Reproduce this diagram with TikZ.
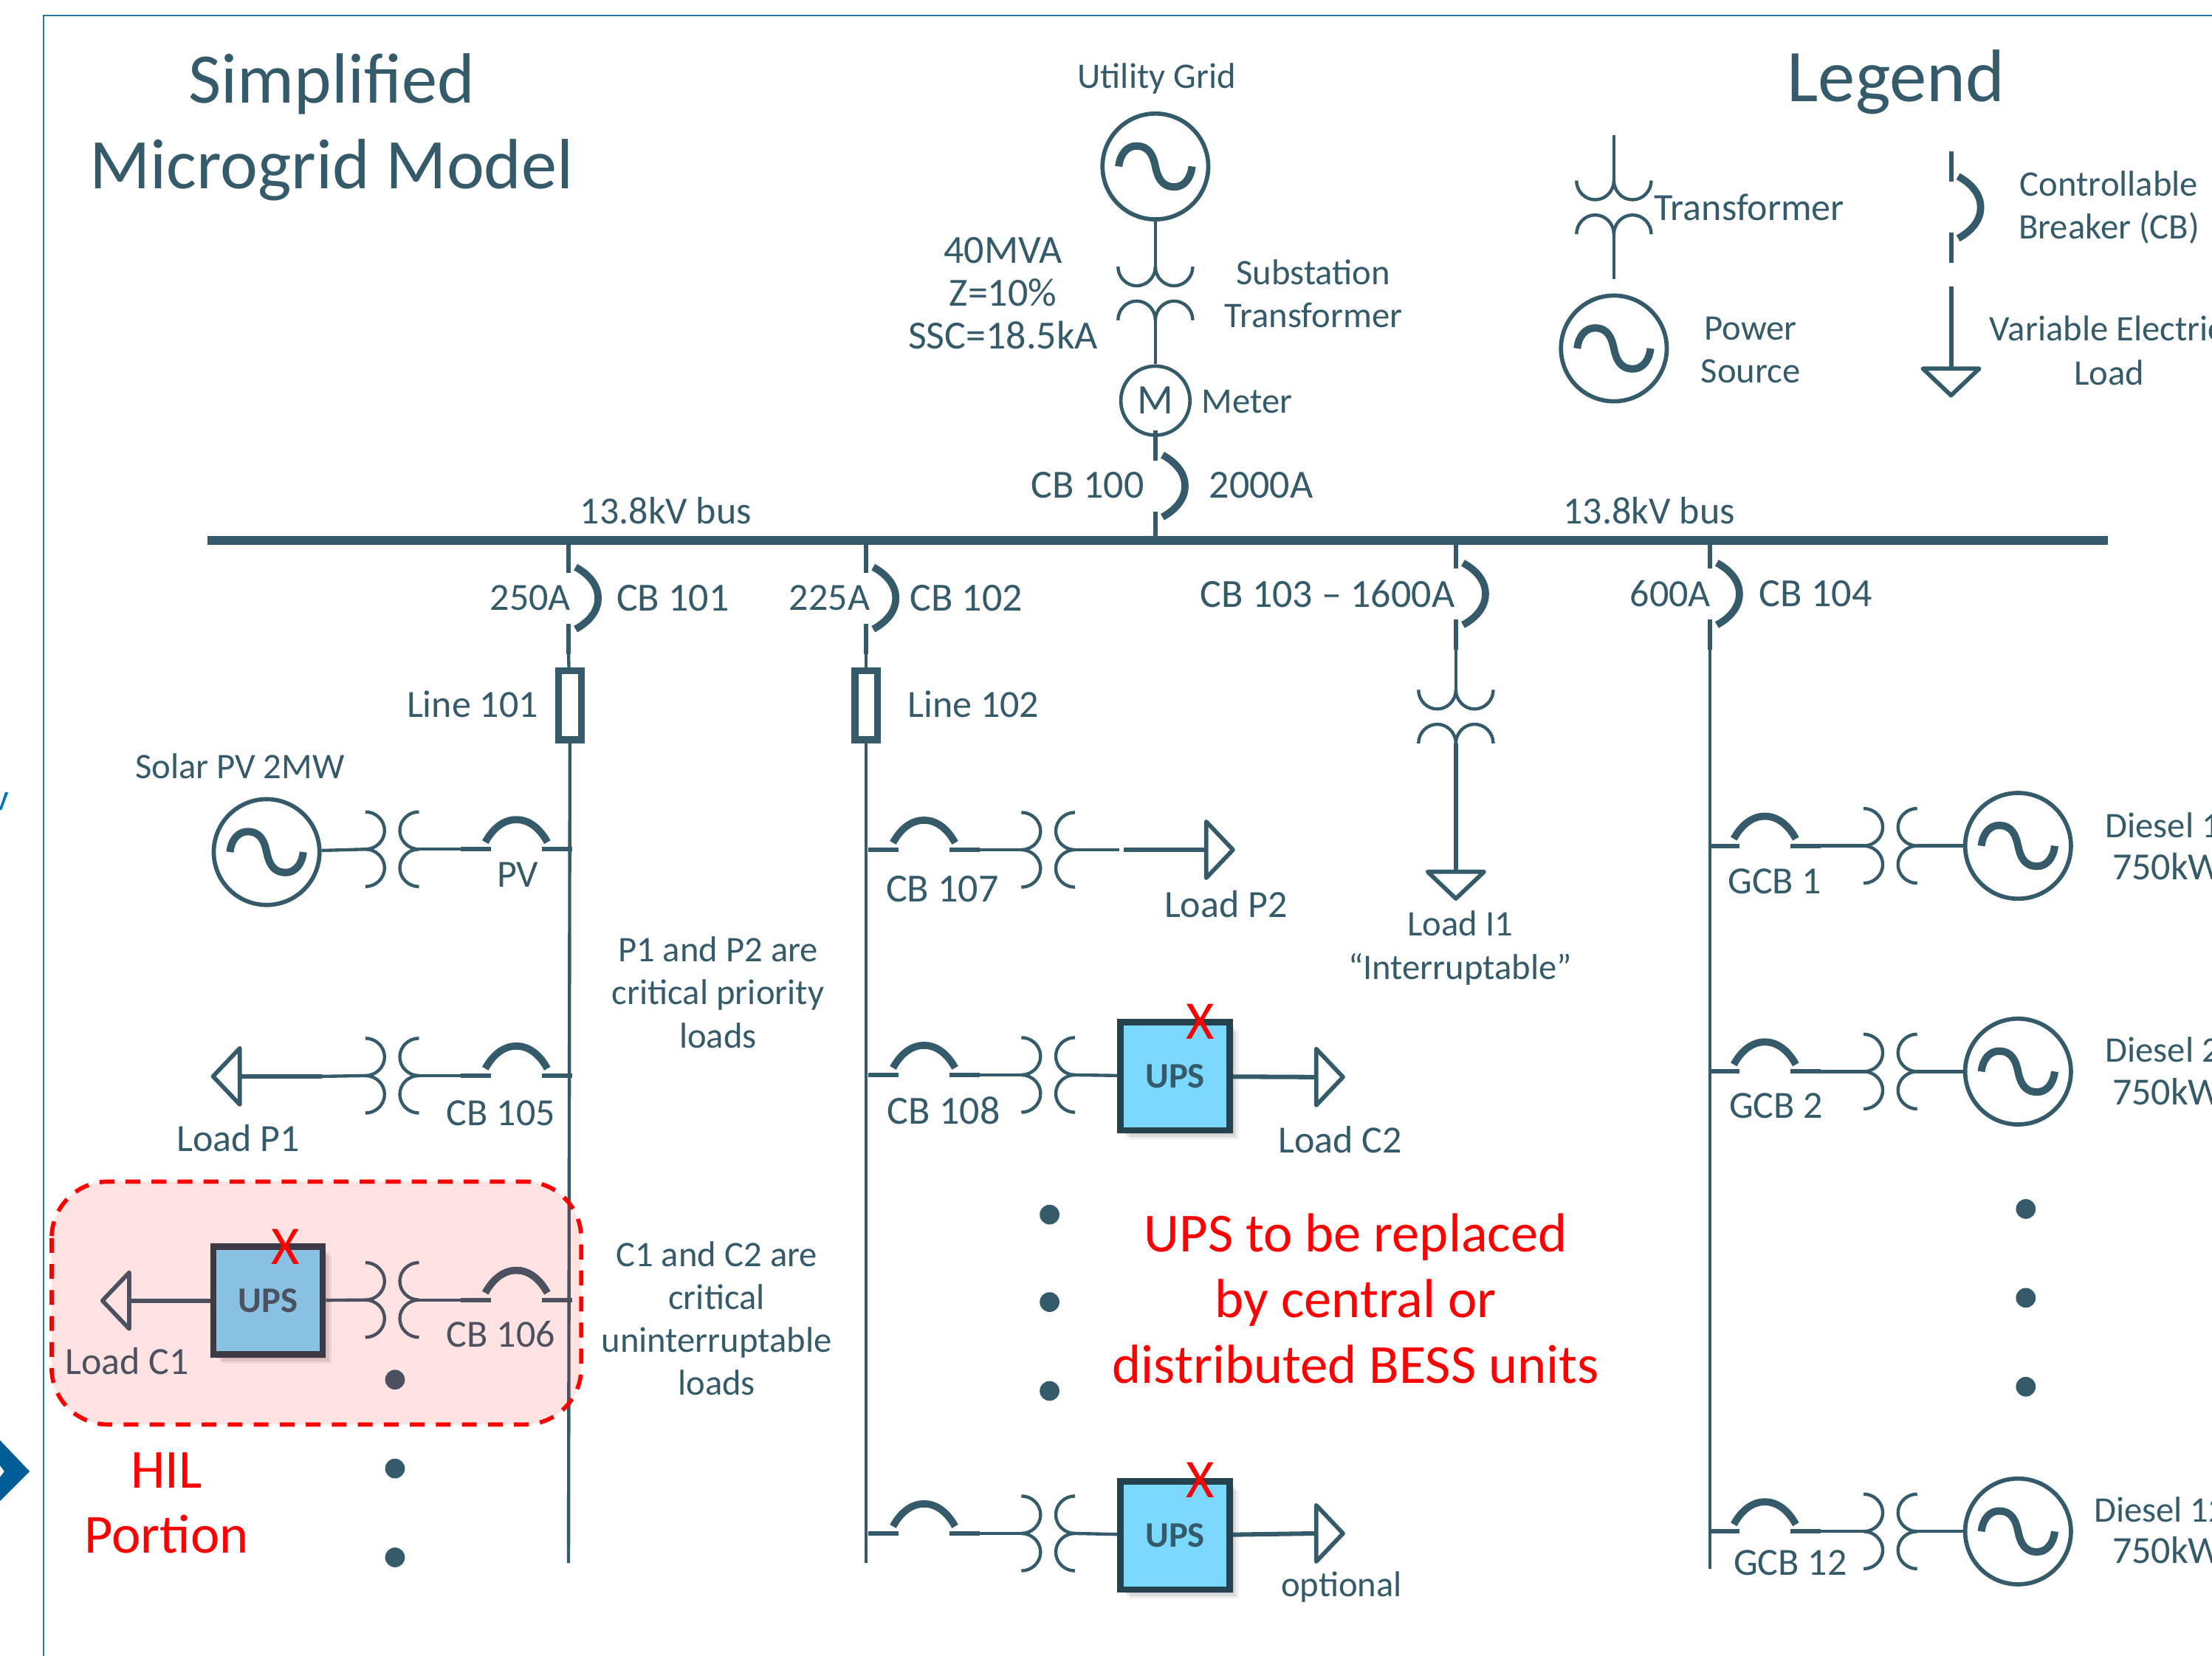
\documentclass[tikz,border=0pt]{standalone}
\usepackage{fontspec}
\setmainfont{Carlito}
\usetikzlibrary{shadows}
\definecolor{teal}{HTML}{355B6B}
\definecolor{frameblue}{HTML}{2E75A6}
\definecolor{chev}{HTML}{005C96}
\definecolor{upsfill}{HTML}{7BD9FF}
\definecolor{upsline}{HTML}{26424F}
\definecolor{vblue}{HTML}{0070C0}
\tikzset{
  wire/.style={draw=teal,line width=1.3pt},
  thickwire/.style={draw=teal,line width=1.8pt},
  lbl/.style={inner sep=0pt,text=teal,align=center,font=\fontsize{15.5}{17.3}\selectfont},
  lbn/.style={inner sep=0pt,text=teal,align=center,font=\fontsize{14.5}{17.3}\selectfont},
  lbw/.style={inner sep=0pt,text=teal,align=center,font=\fontsize{16.1}{17.3}\selectfont},
  ttl/.style={inner sep=0pt,text=teal,align=center,font=\fontsize{28.7}{34.5}\selectfont},
  redtxt/.style={inner sep=0pt,text=red,align=center,font=\fontsize{22.2}{26.4}\selectfont},
  redx/.style={inner sep=0pt,text=red,font=\fontsize{22}{24}\selectfont},
  gen/.style={circle,draw=teal,line width=1.7pt,minimum size=1.5cm,inner sep=0pt},
  meter/.style={circle,draw=teal,line width=1.4pt,minimum size=0.98cm,inner sep=0pt,text=teal,font=\fontsize{17}{18}\selectfont},
  fuse/.style={rectangle,draw=teal,fill=white,line width=2.8pt,minimum width=0.32cm,minimum height=0.98cm,inner sep=0pt},
  ups/.style={rectangle,draw=upsline,fill=upsfill,line width=2.6pt,minimum width=1.55cm,minimum height=1.53cm,inner sep=0pt,text=teal,
    font=\bfseries\fontsize{14.5}{17}\selectfont,
    drop shadow={shadow xshift=3.6pt,shadow yshift=-3.6pt,opacity=.12},
    drop shadow={shadow xshift=2.6pt,shadow yshift=-2.6pt,opacity=.18},
    drop shadow={shadow xshift=1.6pt,shadow yshift=-1.6pt,opacity=.25}},
  dotmark/.style={circle,fill=teal,minimum size=0.28cm,inner sep=0pt},
  xfmr/.pic={
    \draw[wire] (-26.5,-19) .. controls (-26.5,-11.5) and (-20.5,-5.4) .. (-13.25,-5.4) .. controls (-6,-5.4) and (0,-11.5) .. (0,-19);
    \draw[wire] (26.5,-19) .. controls (26.5,-11.5) and (20.5,-5.4) .. (13.25,-5.4) .. controls (6,-5.4) and (0,-11.5) .. (0,-19);
    \draw[wire] (-26.5,19) .. controls (-26.5,11.5) and (-20.5,5.4) .. (-13.25,5.4) .. controls (-6,5.4) and (0,11.5) .. (0,19);
    \draw[wire] (26.5,19) .. controls (26.5,11.5) and (20.5,5.4) .. (13.25,5.4) .. controls (6,5.4) and (0,11.5) .. (0,19);
    \coordinate (-a) at (0,-19);
    \coordinate (-b) at (0,19);
  },
  brk/.pic={
    \draw[draw=teal,line width=2.9pt] (-22,-5) .. controls (-16,-16) and (-8,-21) .. (0,-21) .. controls (8,-21) and (16,-16) .. (22,-5);
    \draw[thickwire] (-39.5,0) -- (-18,0);
    \draw[thickwire] (18,0) -- (39.5,0);
    \coordinate (-a) at (-39.5,0);
    \coordinate (-b) at (39.5,0);
  },
  sinewave/.pic={
    \draw[draw=teal,line width=3pt] (-26,0) .. controls (-25,-9) and (-20,-14.5) .. (-13.5,-14.5) .. controls (-4,-14.5) and (-1.5,-7) .. (0,0) .. controls (1.5,7) and (4,14.5) .. (13.5,14.5) .. controls (20,14.5) and (25,9) .. (26,0);
  },
  loadtip/.pic={
    \draw[draw=teal,line width=1.7pt,line join=round] (0,-20) -- (19,0) -- (0,20) -- cycle;
    \coordinate (-a) at (0,0);
  }
}
\begin{document}
\begin{tikzpicture}[x=0.02cm,y=-0.02cm]
\useasboundingbox (0,0) rectangle (1568,1173.9);
\clip (0,0) rectangle (1568,1173.9);
\fill[white] (0,0) rectangle (1568,1173.9);

% frame and fragments at the margin
\coordinate (fa) at (31,1174);
\coordinate (fb) at (31,11);
\coordinate (fc) at (1568,11);
\draw[draw=frameblue,line width=0.7pt] (fa) -- (fb) -- (fc);
\fill[chev] (0,1021) -- (21,1043) -- (0,1064) -- cycle;
\fill[white] (0,1039) -- (3,1043) -- (0,1047) -- cycle;
\node[inner sep=0pt,text=vblue,anchor=east,font=\fontsize{15}{17}\selectfont] (vfrag) at (7,568) {v};

% titles
\node[ttl] (title) at (235,90) {Simplified\\Microgrid Model};
\node[ttl,font=\fontsize{30}{34}\selectfont] (legend) at (1344,58) {Legend};

% bus
\coordinate (busL) at (147,383);
\coordinate (busR) at (1494,383);
\draw[draw=teal,line width=3.7pt] (busL) -- (busR);
\node[lbl] (busa) at (472,362) {13.8kV bus};
\node[lbl] (busb) at (1169,362) {13.8kV bus};

% utility feed
\node[lbn] (gridl) at (820,56) {Utility Grid};
\node[gen] (g0) at (819,118) {};
\pic at (g0) {sinewave};
\pic (tsub) at (819,208) {xfmr};
\node[meter] (m) at (819,284) {M};
\pic[rotate=-90] (cb100) at (819,344.5) {brk};
\draw[wire] (g0) -- (tsub-a);
\draw[wire] (tsub-b) -- (m);
\draw[thickwire] (m) -- (cb100-a);
\node[lbw] (mva) at (711,208) {40MVA\\Z=10\%\\SSC=18.5kA};
\node[lbn] (subl) at (931,208) {Substation\\Transformer};
\node[lbn] (meterl) at (884,285) {Meter};
\node[lbw] (cb100l) at (771,344) {CB 100};
\node[lbw] (cb100r) at (894,344) {2000A};

% legend
\coordinate (lgxa) at (1144,96);
\coordinate (lgxb) at (1144,198);
\pic (lgx) at (1144,147) {xfmr};
\draw[wire] (lgxa) -- (lgx-a);
\draw[wire] (lgx-b) -- (lgxb);
\node[lbl] (lgxl) at (1240,147) {Transformer};
\node[gen] (lgg) at (1144,247) {};
\pic at (lgg) {sinewave};
\node[lbn] (lggl) at (1241,248) {Power\\Source};
\pic[rotate=-90] (lgb) at (1383,147) {brk};
\node[lbn] (lgbl) at (1495,147) {Controllable\\Breaker (CB)};
\coordinate (lgla) at (1383,203);
\pic[rotate=-90] (lgl) at (1383,261.3) {loadtip};
\draw[thickwire] (lgla) -- (lgl-a);
\node[lbn,anchor=west] (lgll) at (1410,233) {Variable Electric};
\node[lbn] (lgll2) at (1495,264) {Load};

% column 1
\coordinate (c1e) at (403,1108);
\pic[rotate=-90] (cb101) at (403,424) {brk};
\node[fuse] (f1) at (404,500) {};
\draw[wire] (cb101-b) -- (f1);
\draw[wire] (f1) -- (c1e);
\node[lbl] (a101) at (376,424) {250A};
\node[lbw] (l101) at (477,424) {CB 101};
\node[lbl] (ln101) at (335,499) {Line 101};

% column 2
\coordinate (c2e) at (614,1108);
\pic[rotate=-90] (cb102) at (614,424) {brk};
\node[fuse] (f2) at (614,500) {};
\draw[wire] (cb102-b) -- (f2);
\draw[wire] (f2) -- (c2e);
\node[lbl] (a102) at (588,424) {225A};
\node[lbw] (l102) at (685,424) {CB 102};
\node[lbl] (ln102) at (690,499) {Line 102};

% column 3
\pic[rotate=-90] (cb103) at (1032,421) {brk};
\pic (t103) at (1032,508) {xfmr};
\pic[rotate=-90] (li1) at (1032,618) {loadtip};
\draw[wire] (cb103-b) -- (t103-a);
\draw[thickwire] (t103-b) -- (li1-a);
\node[lbw] (l103) at (941,421) {CB 103 -- 1600A};
\node[lbn] (li1l) at (1035,672) {Load I1\\“Interruptable”};

% column 4
\coordinate (c4e) at (1212,1112);
\pic[rotate=-90] (cb104) at (1212,421) {brk};
\draw[wire] (cb104-b) -- (c4e);
\node[lbl] (a104) at (1184,421) {600A};
\node[lbw] (l104) at (1287,421) {CB 104};

% solar row
\node[lbn] (solarl) at (170,543) {Solar PV 2MW};
\node[gen] (gs) at (189,604) {};
\pic at (gs) {sinewave};
\pic[rotate=90] (ts) at (278,602) {xfmr};
\pic (bpv) at (366,602) {brk};
\draw[wire] (gs) -- (ts-a);
\draw[wire] (ts-b) -- (bpv-a);
\node[lbl] (pvl) at (367,620) {PV};

% CB 105 row
\pic[rotate=180] (lp1) at (170,763) {loadtip};
\coordinate (lp1s) at (228,763);
\pic[rotate=90] (t105) at (278,762.5) {xfmr};
\pic (b105) at (366,762.5) {brk};
\draw[thickwire] (lp1-a) -- (lp1s);
\draw[wire] (lp1s) -- (t105-a);
\draw[wire] (t105-b) -- (b105-a);
\node[lbl] (lp1l) at (169,807) {Load P1};
\node[lbl] (b105l) at (355,789) {CB 105};

% CB 106 row
\pic[rotate=180] (lc1) at (91.6,922) {loadtip};
\node[ups] (u1) at (190,922) {UPS};
\pic[rotate=90] (t106) at (278,921.5) {xfmr};
\pic (b106) at (366,921.5) {brk};
\draw[thickwire] (lc1-a) -- (u1);
\draw[wire] (u1) -- (t106-a);
\draw[wire] (t106-b) -- (b106-a);
\node[lbl] (lc1l) at (90,965) {Load C1};
\node[lbl] (b106l) at (355,946) {CB 106};

% dots
\node[dotmark] (d1) at (280,978) {};
\node[dotmark] (d2) at (280,1041) {};
\node[dotmark] (d3) at (280,1104) {};
\node[dotmark] (d4) at (744,861) {};
\node[dotmark] (d5) at (744,923) {};
\node[dotmark] (d6) at (744,986) {};
\node[dotmark] (d7) at (1436,857) {};
\node[dotmark] (d8) at (1436,920) {};
\node[dotmark] (d9) at (1436,983) {};

% notes
\node[lbn] (n1) at (509,703.5) {P1 and P2 are\\critical priority\\loads};
\node[lbn] (n2) at (508,934.5) {C1 and C2 are\\critical\\uninterruptable\\loads};

% CB 107 row
\pic (b107) at (655,602.4) {brk};
\pic[rotate=90] (t107) at (743,602.4) {xfmr};
\pic (lp2) at (855,602.4) {loadtip};
\coordinate (lp2g) at (793.5,602.4);
\coordinate (lp2s) at (796.5,602.4);
\draw[wire] (b107-b) -- (t107-a);
\draw[wire] (t107-b) -- (lp2g);
\draw[thickwire] (lp2s) -- (lp2-a);
\node[lbw] (b107l) at (668,630) {CB 107};
\node[lbl] (lp2l) at (869,641) {Load P2};

% CB 108 row
\pic (b108) at (655,762) {brk};
\pic[rotate=90] (t108) at (743,762) {xfmr};
\node[ups] (u2) at (833,763) {UPS};
\pic (lc2) at (933,763.5) {loadtip};
\draw[wire] (b108-b) -- (t108-a);
\draw[wire] (t108-b) -- (u2);
\draw[thickwire] (u2) -- (lc2-a);
\node[lbw] (b108l) at (669,787) {CB 108};
\node[lbl] (lc2l) at (950,808) {Load C2};

% optional row
\pic (b109) at (655,1087) {brk};
\pic[rotate=90] (t109) at (743,1087) {xfmr};
\node[ups] (u3) at (833,1088.5) {UPS};
\pic (lo) at (933,1087) {loadtip};
\draw[wire] (b109-b) -- (t109-a);
\draw[wire] (t109-b) -- (u3);
\draw[thickwire] (u3) -- (lo-a);
\node[lbn] (lol) at (951,1125) {optional};

% diesel rows
\pic (g1b) at (1251,599.6) {brk};
\pic[rotate=90] (g1t) at (1340,599.6) {xfmr};
\node[gen] (g1) at (1430.5,599.6) {};
\pic at (g1) {sinewave};
\draw[wire] (g1b-b) -- (g1t-a);
\draw[wire] (g1t-b) -- (g1);
\node[lbl] (g1bl) at (1258,625) {GCB 1};
\node[lbn,anchor=west] (g1l) at (1492,585) {Diesel 1};
\node[lbl,anchor=west] (g1k) at (1497,614) {750kW};

\pic (g2b) at (1251,759.6) {brk};
\pic[rotate=90] (g2t) at (1340,759.6) {xfmr};
\node[gen] (g2) at (1430.5,759.6) {};
\pic at (g2) {sinewave};
\draw[wire] (g2b-b) -- (g2t-a);
\draw[wire] (g2t-b) -- (g2);
\node[lbl] (g2bl) at (1259,784) {GCB 2};
\node[lbn,anchor=west] (g2l) at (1492,744) {Diesel 2};
\node[lbl,anchor=west] (g2k) at (1497,774) {750kW};

\pic (g3b) at (1251,1085.6) {brk};
\pic[rotate=90] (g3t) at (1340,1085.6) {xfmr};
\node[gen] (g3) at (1430.5,1085.6) {};
\pic at (g3) {sinewave};
\draw[wire] (g3b-b) -- (g3t-a);
\draw[wire] (g3t-b) -- (g3);
\node[lbl] (g3bl) at (1269,1108) {GCB 12};
\node[lbn,anchor=west] (g3l) at (1484,1070) {Diesel 12};
\node[lbl,anchor=west] (g3k) at (1497,1099) {750kW};

% red annotations
\node[redtxt] (rt) at (961,920.5) {UPS to be replaced\\by central or\\distributed BESS units};
\node[redtxt] (hil) at (118,1065.5) {HIL\\Portion};

% HIL overlay
\draw[draw=red,fill=red,fill opacity=.11,line width=1.7pt,dash pattern=on 6pt off 4.5pt,rounded corners=0.8cm]
  (36.6,837.6) rectangle (412,1009.8);

\node[redx] (x1) at (202.5,884) {X};
\node[redx] (x2) at (851,724) {X};
\node[redx] (x3) at (851,1049) {X};
\end{tikzpicture}
\end{document}
